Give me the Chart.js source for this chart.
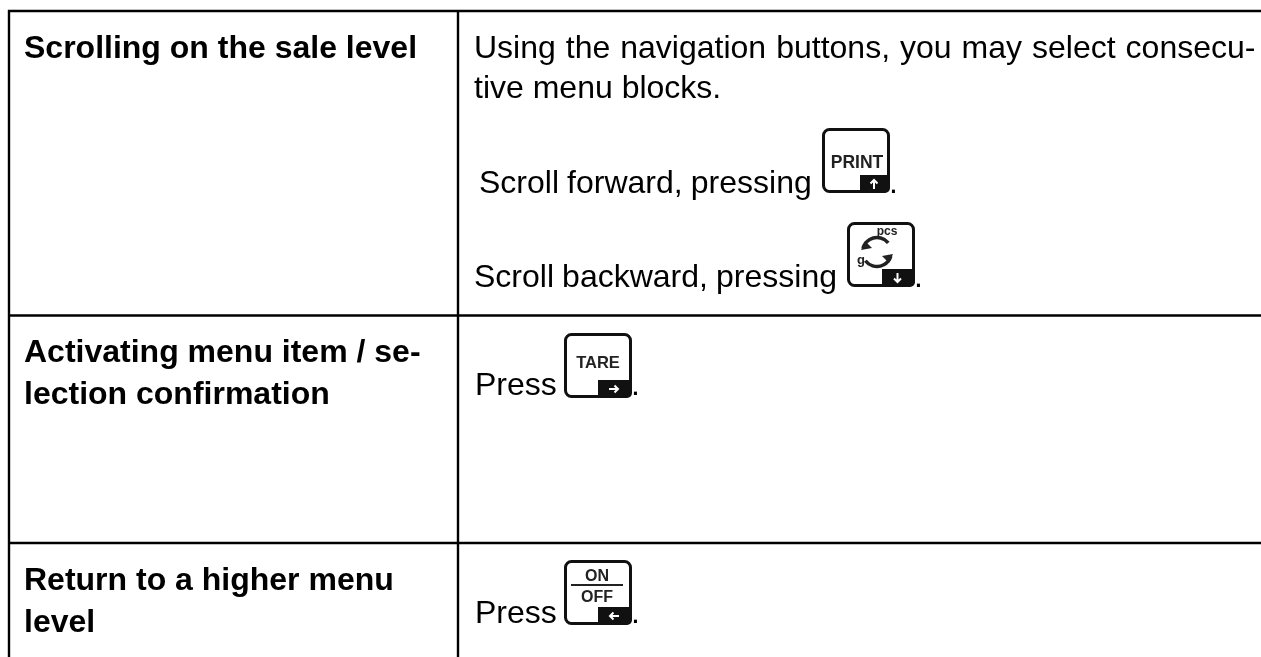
<!DOCTYPE html>
<html><head><meta charset="utf-8">
<style>html,body{margin:0;padding:0;background:#fff}#w{width:1261px;height:657px;position:relative}canvas{display:block}</style>
<script src="https://cdn.jsdelivr.net/npm/chart.js@4"></script></head>
<body><div id="w"><canvas id="c" width="1261" height="657"></canvas></div>
<script>
const rowHeadings = [["Scrolling on the sale level"],["Activating menu item / se-","lection confirmation"],["Return to a higher menu","level"]];
const bodyLines = ["Using the navigation buttons, you may select consecu-","tive menu blocks.","Scroll forward, pressing","Scroll backward, pressing","Press","Press"];
const iconLabels = ["PRINT","pcs","g","TARE","ON","OFF"];
const ruleY = [11,315.5,543];
const ruleX = [9,458];
const FONT='"Liberation Sans"';
const rules=[];
ruleY.forEach(y=>rules.push([{x:8,y},{x:1261,y}]));
ruleX.forEach(x=>rules.push([{x,y:10},{x,y:657}]));
function arrow(ctx,cx,cy,dir){ctx.save();ctx.translate(cx,cy);ctx.rotate(dir);ctx.strokeStyle='#fff';ctx.lineWidth=2;ctx.beginPath();ctx.moveTo(0,5);ctx.lineTo(0,-4);ctx.moveTo(-3.5,-0.5);ctx.lineTo(0,-4);ctx.lineTo(3.5,-0.5);ctx.stroke();ctx.restore();}
function key(ctx,x,y,dir,w){ctx.strokeStyle='#111';ctx.lineWidth=3;ctx.beginPath();ctx.roundRect(x+1.5,y+1.5,65,62,6);ctx.stroke();ctx.fillStyle='#111';ctx.beginPath();ctx.roundRect(x+68-w,y+47,w,18,[0,0,5,0]);ctx.fill();arrow(ctx,x+68-w/2-1,y+56,dir);}
const txt={id:'txt',afterDraw(ch){
 const c=ch.ctx,X=ch.scales.x,Y=ch.scales.y;
 const T=(s,x,y,f,ws)=>{c.font=f;c.fillStyle='#000';c.textAlign='left';c.textBaseline='alphabetic';c.wordSpacing=(ws||0)+'px';c.fillText(s,X.getPixelForValue(x),Y.getPixelForValue(y));c.wordSpacing='0px';};
 const B='bold 32px '+FONT,R='32px '+FONT;
 T(rowHeadings[0][0],24,58,B);
 T(rowHeadings[1][0],24,362,B);T(rowHeadings[1][1],24,404,B);
 T(rowHeadings[2][0],24,590,B);T(rowHeadings[2][1],24,632,B);
 T(bodyLines[0],474,58,R,1.1);T(bodyLines[1],474,98,R);
 T(bodyLines[2],479,193,R,-0.8);T(bodyLines[3],474,287,R,-0.8);
 T(bodyLines[4],475,395,R);T(bodyLines[5],475,623,R);
 T('.',889,193,R);T('.',914,287,R);T('.',631,395,R);T('.',631,623,R);
 const C=(s,x,y,f)=>{c.font=f;c.fillStyle='#222';c.textAlign='center';c.fillText(s,x,y);};
 key(c,822,128,0,30);C(iconLabels[0],857,168,'bold 17.5px '+FONT);
 key(c,847,222,Math.PI,33);C(iconLabels[1],887,235,'bold 12px '+FONT);C(iconLabels[2],861,264,'bold 13px '+FONT);
 c.strokeStyle='#222';c.lineWidth=3.5;
 c.beginPath();c.arc(877,252,14.5,3.4,5.6);c.stroke();
 c.beginPath();c.arc(877,252,14.5,0.3,2.5);c.stroke();
 c.fillStyle='#222';
 c.beginPath();c.moveTo(861,250);c.lineTo(865,241);c.lineTo(872,248);c.fill();
 c.beginPath();c.moveTo(893,254);c.lineTo(889,263);c.lineTo(882,256);c.fill();
 key(c,564,333,Math.PI/2,34);C(iconLabels[3],598,368,'bold 16.5px '+FONT);
 key(c,564,560,-Math.PI/2,34);C(iconLabels[4],597,581,'bold 16px '+FONT);C(iconLabels[5],597,602,'bold 16px '+FONT);
 c.fillStyle='#222';c.fillRect(571,584,52,2);
}};
new Chart(document.getElementById('c'),{type:'scatter',
 data:{datasets:rules.map(d=>({data:d,showLine:true,borderColor:'#000',borderWidth:2.4,pointRadius:0,fill:false}))},
 options:{responsive:false,animation:false,layout:{padding:0},events:[],
  plugins:{legend:{display:false},tooltip:{enabled:false},title:{display:false}},
  scales:{x:{type:'linear',min:0,max:1261,display:false},y:{type:'linear',min:0,max:657,reverse:true,display:false}}},
 plugins:[txt]});
</script></body></html>
